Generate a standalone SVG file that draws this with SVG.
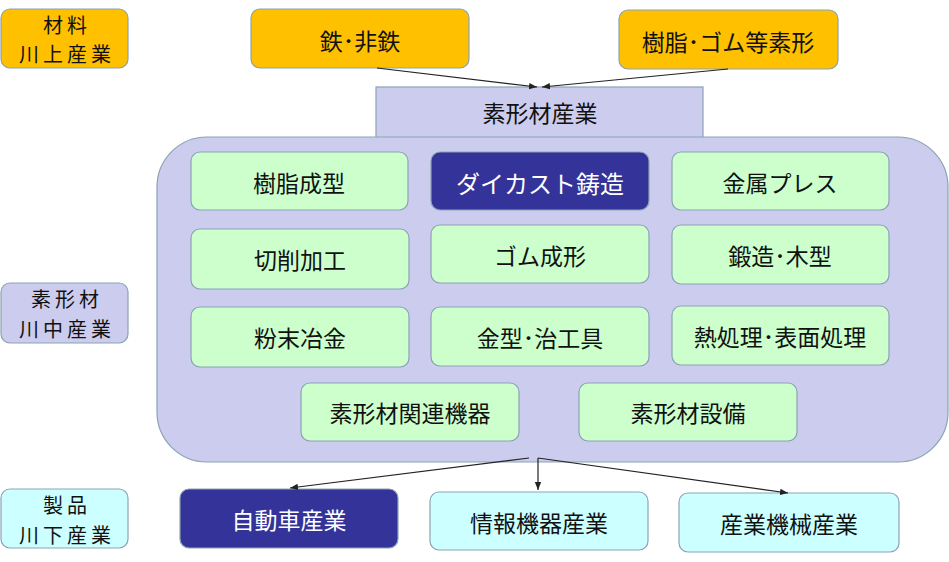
<svg xmlns="http://www.w3.org/2000/svg" width="949" height="562" viewBox="0 0 949 562">
<defs>
<style>
.b{stroke:#8aa3b3;stroke-width:1.2}
.o{fill:#ffc000}
.l{fill:#ccccee}
.g{fill:#ccffcc}
.c{fill:#ccffff}
.n{fill:#333399}
text{font-family:"Noto Sans CJK JP","Noto Sans",sans-serif;font-size:23px;fill:#111;text-anchor:middle;dominant-baseline:central}
.w{fill:#fff}
.s{font-size:20px;letter-spacing:4px}
.e{stroke:#222;stroke-width:1.2;fill:none}
</style>
<marker id="ah" viewBox="0 0 10 10" refX="10" refY="5" markerWidth="8" markerHeight="8" markerUnits="userSpaceOnUse" orient="auto"><path d="M0,1 L10,5 L0,9 Z" fill="#222"/></marker>
</defs>
<g id="label-kawakami"><rect class="b o" x="1" y="9" width="127" height="59" rx="9"/><text class="s" x="67" y="24">材料</text><text class="s" x="67" y="53">川上産業</text></g>
<g id="label-kawanaka"><rect class="b l" x="1" y="283" width="127" height="60" rx="9"/><text class="s" x="67" y="298">素形材</text><text class="s" x="67" y="328">川中産業</text></g>
<g id="label-kawashimo"><rect class="b c" x="1" y="489" width="127" height="59" rx="9"/><text class="s" x="67" y="504">製品</text><text class="s" x="67" y="534">川下産業</text></g>
<g id="tetsu"><rect class="b o" x="251" y="9" width="218" height="59" rx="9"/><text x="360" y="40">鉄･非鉄</text></g>
<g id="jushi-gomu"><rect class="b o" x="619" y="10" width="219" height="59" rx="9"/><text x="728" y="41">樹脂･ゴム等素形</text></g>
<g id="sokeizai-sangyo"><rect class="b l" x="376" y="87" width="327" height="60"/><text x="540" y="112">素形材産業</text></g>
<g id="sokeizai-group"><rect class="b l" x="157" y="137" width="791" height="325" rx="50"/></g>
<g id="jushi-seikei"><rect class="b g" x="191" y="152" width="217" height="58" rx="9"/><text x="299" y="182">樹脂成型</text></g>
<g id="diecast"><rect class="b n" x="431" y="152" width="218" height="58" rx="9"/><text class="w" x="540" y="182" style="font-size:24px">ダイカスト鋳造</text></g>
<g id="kinzoku-press"><rect class="b g" x="672" y="152" width="217" height="58" rx="9"/><text x="780" y="182">金属プレス</text></g>
<g id="sessaku"><rect class="b g" x="191" y="229" width="218" height="60" rx="9"/><text x="300" y="259">切削加工</text></g>
<g id="gomu-seikei"><rect class="b g" x="431" y="225" width="218" height="58" rx="9"/><text x="540" y="255">ゴム成形</text></g>
<g id="tanzo"><rect class="b g" x="672" y="225" width="217" height="59" rx="9"/><text x="780" y="255">鍛造･木型</text></g>
<g id="funmatsu"><rect class="b g" x="191" y="307" width="218" height="60" rx="9"/><text x="300" y="337">粉末冶金</text></g>
<g id="kanagata"><rect class="b g" x="431" y="307" width="218" height="59" rx="9"/><text x="540" y="337">金型･治工具</text></g>
<g id="netsushori"><rect class="b g" x="672" y="306" width="217" height="59" rx="9"/><text x="780" y="336">熱処理･表面処理</text></g>
<g id="kanren-kiki"><rect class="b g" x="301" y="383" width="218" height="58" rx="9"/><text x="410" y="412">素形材関連機器</text></g>
<g id="setsubi"><rect class="b g" x="579" y="383" width="218" height="58" rx="9"/><text x="688" y="412">素形材設備</text></g>
<g id="jidosha"><rect class="b n" x="180" y="489" width="218" height="59" rx="9"/><text class="w" x="289" y="519">自動車産業</text></g>
<g id="joho-kiki"><rect class="b c" x="430" y="492" width="218" height="58" rx="9"/><text x="539" y="522">情報機器産業</text></g>
<g id="sangyo-kikai"><rect class="b c" x="679" y="493" width="220" height="59" rx="9"/><text x="789" y="523">産業機械産業</text></g>
<g id="connectors">
<line class="e" x1="377" y1="68" x2="537" y2="87" marker-end="url(#ah)"/>
<line class="e" x1="728" y1="69" x2="542" y2="87" marker-end="url(#ah)"/>
<line class="e" x1="529" y1="458" x2="290" y2="488" marker-end="url(#ah)"/>
<line class="e" x1="538" y1="458" x2="538" y2="490" marker-end="url(#ah)"/>
<line class="e" x1="538" y1="458" x2="788" y2="493" marker-end="url(#ah)"/>
</g>
</svg>
